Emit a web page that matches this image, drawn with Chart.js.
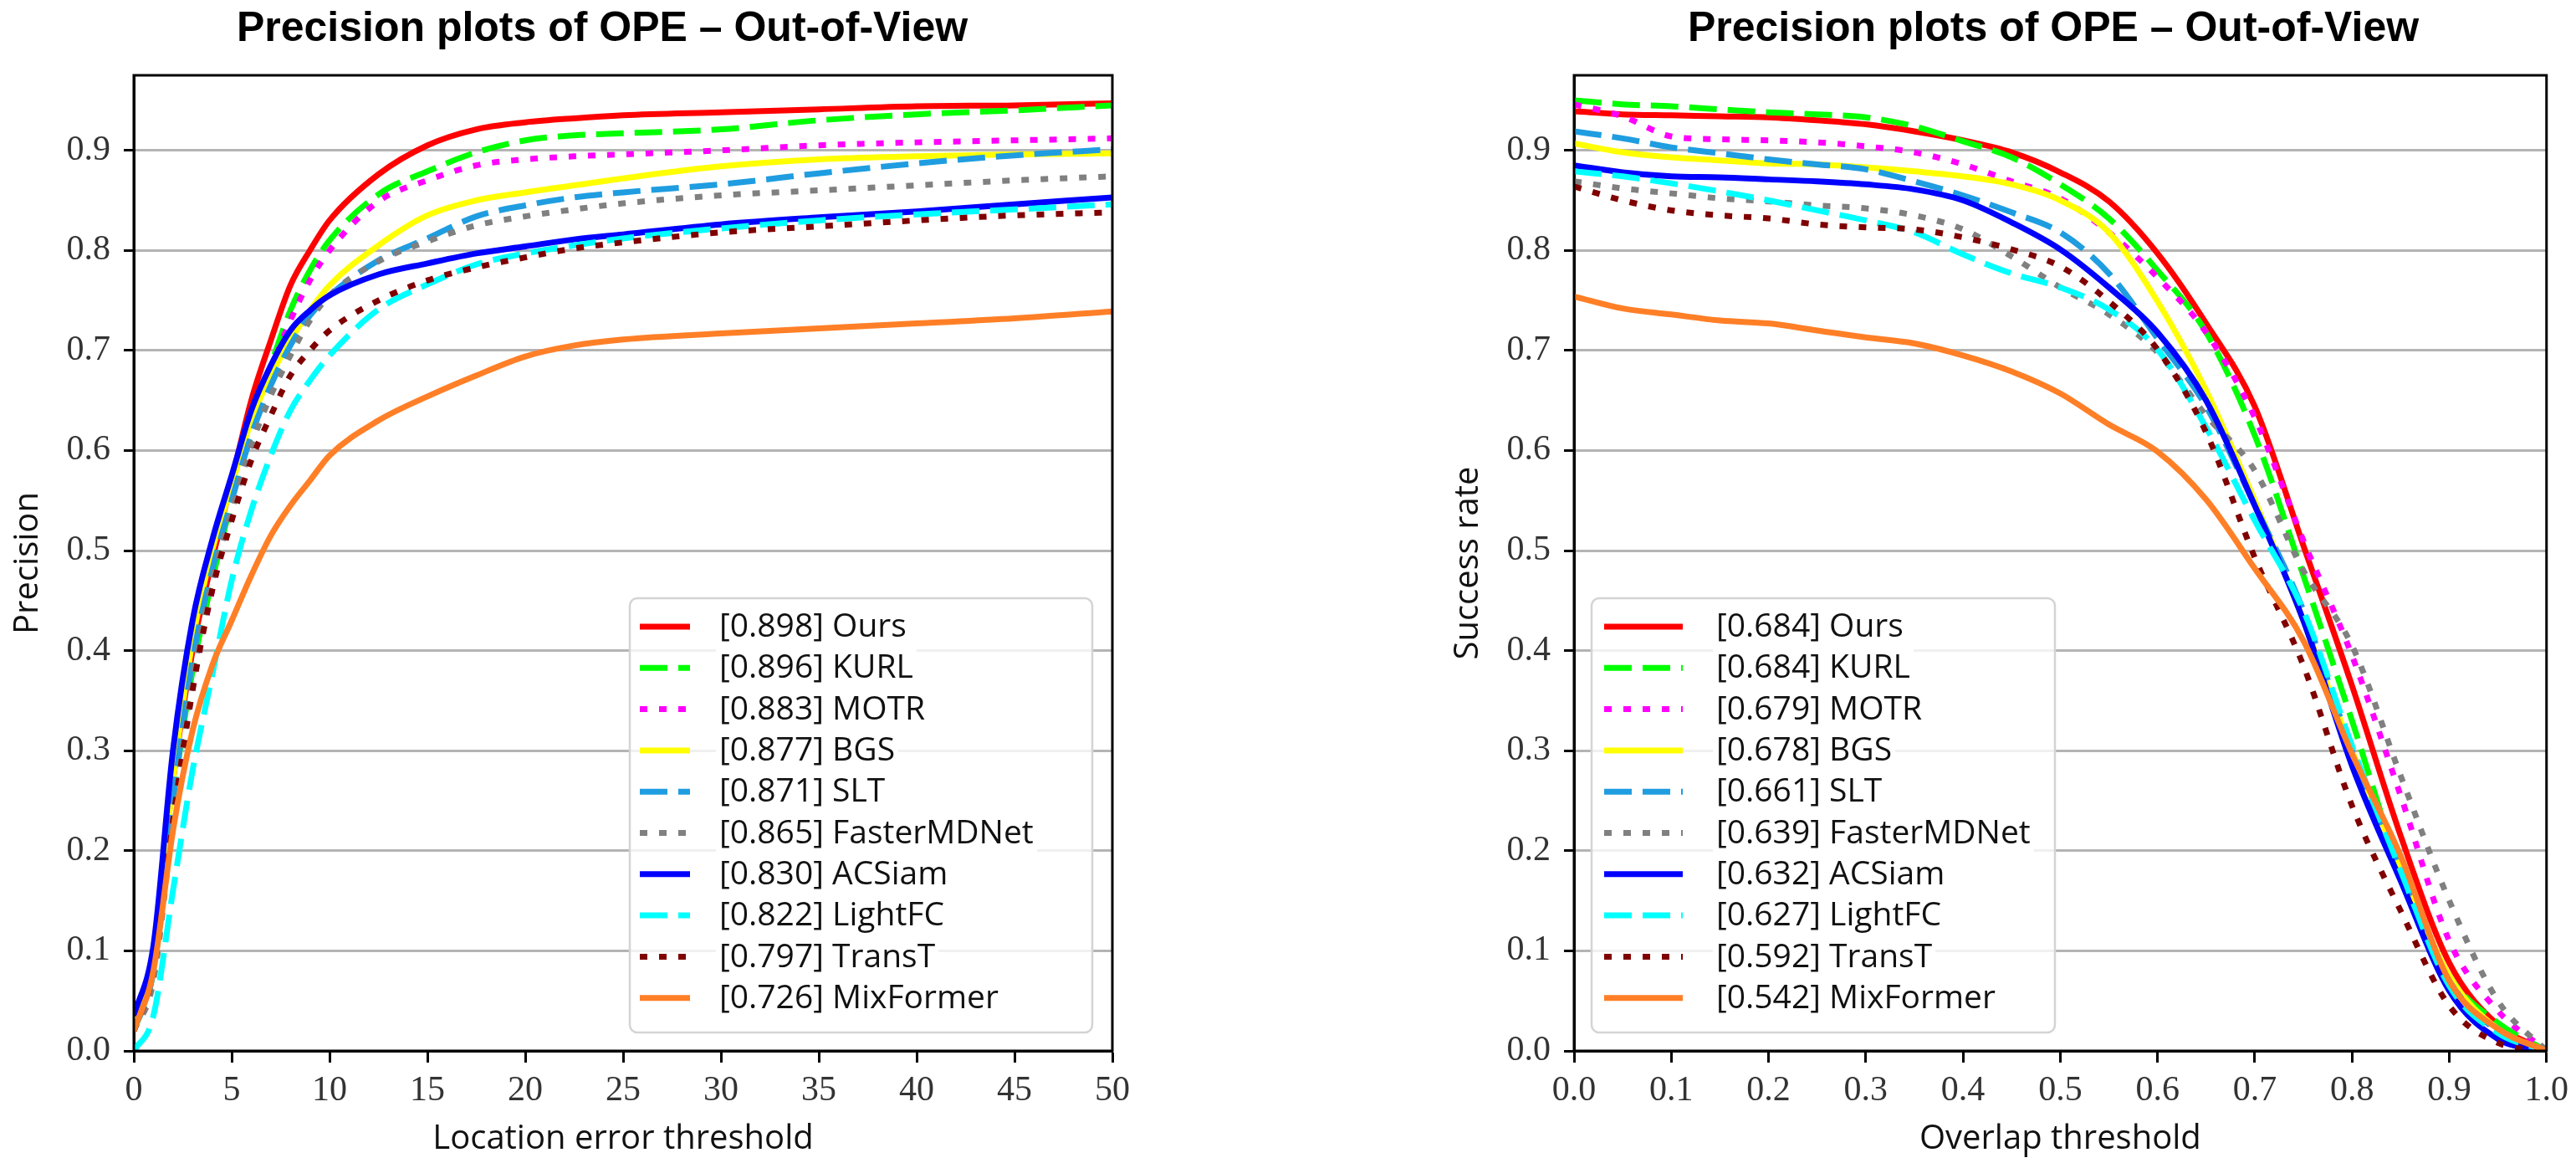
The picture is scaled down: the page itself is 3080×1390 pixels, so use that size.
<!DOCTYPE html>
<html>
<head>
<meta charset="utf-8">
<script src="https://cdn.jsdelivr.net/npm/chart.js@4.4.1/dist/chart.umd.min.js"></script>
<style>
  body{margin:0;background:#fff;width:3080px;height:1390px;overflow:hidden;position:relative}
  canvas{position:absolute;top:0}
  #precCanvas{left:0}
  #succCanvas{left:1722px}
</style>
</head>
<body>
<canvas id="precCanvas" width="1540" height="1390"></canvas>
<canvas id="succCanvas" width="1358" height="1390"></canvas>
<script>
// trackers, in legend order
const methods=['Ours','KURL','MOTR','BGS','SLT','FasterMDNet','ACSiam','LightFC','TransT','MixFormer']
const precScores=['0.898','0.896','0.883','0.877','0.871','0.865','0.830','0.822','0.797','0.726']
const succScores=['0.684','0.684','0.679','0.678','0.661','0.639','0.632','0.627','0.592','0.542']
const colors=['#ff0000','#00ff00','#ff00ff','#ffff00','#1f9de0','#808080','#0000ff','#00ffff','#800000','#ff7f27']
const styles=['solid','dashed','dotted','solid','dashed','dotted','solid','dashed','dotted','solid']

// precision plot: location error threshold
const errThresholds=[0,1,2,3,4,5,6,7,8,9,10,12.5,15,17.5,20,22.5,25,30,35,40,45,50]
const precOurs=[0.03,0.10,0.27,0.40,0.49,0.57,0.65,0.71,0.765,0.80,0.83,0.876,0.905,0.921,0.928,0.932,0.935,0.938,0.941,0.944,0.945,0.947]
const precKURL=[0.02,0.08,0.25,0.38,0.47,0.55,0.625,0.685,0.74,0.78,0.81,0.856,0.879,0.898,0.910,0.915,0.917,0.921,0.930,0.936,0.940,0.945]
const precMOTR=[0.02,0.08,0.24,0.37,0.46,0.545,0.62,0.68,0.73,0.77,0.80,0.849,0.870,0.885,0.891,0.894,0.896,0.900,0.905,0.908,0.910,0.912]
const precBGS=[0.03,0.09,0.27,0.41,0.50,0.565,0.63,0.675,0.71,0.74,0.765,0.805,0.835,0.850,0.858,0.865,0.872,0.884,0.891,0.894,0.896,0.897]
const precSLT=[0.02,0.08,0.25,0.39,0.48,0.55,0.615,0.665,0.705,0.735,0.755,0.790,0.812,0.834,0.845,0.853,0.858,0.866,0.877,0.887,0.895,0.901]
const precFaster=[0.02,0.07,0.23,0.37,0.47,0.54,0.605,0.655,0.695,0.73,0.755,0.789,0.809,0.825,0.834,0.841,0.847,0.855,0.860,0.865,0.870,0.874]
const precACSiam=[0.035,0.105,0.30,0.43,0.51,0.575,0.64,0.685,0.72,0.74,0.755,0.776,0.787,0.797,0.804,0.811,0.816,0.826,0.833,0.839,0.846,0.853]
const precLightFC=[0.0,0.035,0.16,0.28,0.375,0.47,0.54,0.595,0.64,0.67,0.695,0.741,0.766,0.786,0.797,0.805,0.812,0.822,0.830,0.836,0.841,0.846]
const precTransT=[0.02,0.08,0.23,0.36,0.46,0.53,0.59,0.635,0.675,0.70,0.72,0.750,0.770,0.783,0.793,0.802,0.808,0.818,0.824,0.830,0.835,0.838]
const precMix=[0.02,0.08,0.22,0.32,0.385,0.43,0.475,0.515,0.545,0.57,0.595,0.630,0.654,0.675,0.694,0.705,0.711,0.717,0.722,0.727,0.732,0.739]

// success plot: overlap threshold
const overlapThresholds=[0,0.05,0.1,0.15,0.2,0.25,0.3,0.35,0.4,0.45,0.5,0.55,0.6,0.65,0.7,0.75,0.8,0.85,0.9,0.95,1.0]
const succOurs=[0.939,0.936,0.935,0.934,0.933,0.930,0.926,0.919,0.910,0.898,0.878,0.849,0.797,0.727,0.644,0.505,0.365,0.215,0.088,0.026,0.0]
const succKURL=[0.950,0.946,0.944,0.941,0.938,0.936,0.933,0.924,0.909,0.893,0.866,0.832,0.780,0.718,0.615,0.475,0.33,0.18,0.075,0.028,0.0]
const succMOTR=[0.946,0.934,0.914,0.911,0.910,0.908,0.904,0.898,0.886,0.869,0.852,0.818,0.773,0.718,0.633,0.51,0.395,0.255,0.11,0.04,0.0]
const succBGS=[0.907,0.898,0.893,0.890,0.887,0.886,0.883,0.879,0.874,0.866,0.850,0.818,0.749,0.660,0.55,0.43,0.30,0.185,0.075,0.022,0.0]
const succSLT=[0.919,0.912,0.903,0.897,0.891,0.886,0.881,0.869,0.855,0.838,0.818,0.777,0.712,0.644,0.545,0.44,0.30,0.18,0.07,0.02,0.0]
const succFaster=[0.869,0.862,0.857,0.852,0.849,0.845,0.842,0.835,0.821,0.794,0.763,0.736,0.698,0.635,0.58,0.48,0.405,0.275,0.15,0.05,0.0]
const succACSiam=[0.885,0.878,0.874,0.873,0.871,0.869,0.866,0.861,0.850,0.828,0.801,0.763,0.718,0.65,0.545,0.43,0.285,0.17,0.06,0.012,0.0]
const succLightFC=[0.879,0.874,0.867,0.859,0.850,0.840,0.830,0.818,0.796,0.777,0.763,0.741,0.701,0.623,0.53,0.44,0.305,0.18,0.065,0.018,0.0]
const succTransT=[0.864,0.850,0.840,0.835,0.832,0.826,0.823,0.821,0.813,0.801,0.784,0.749,0.701,0.618,0.493,0.385,0.245,0.14,0.045,0.008,0.0]
const succMix=[0.754,0.742,0.736,0.730,0.727,0.720,0.713,0.707,0.695,0.679,0.657,0.626,0.599,0.551,0.482,0.41,0.297,0.195,0.07,0.022,0.0]

const yTicks=[0,0.1,0.2,0.3,0.4,0.5,0.6,0.7,0.8,0.9]

const dashFor=s=>s=='dashed'?[33,13]:(s=='dotted'?[9,14]:[])

const figurePlugin={
    id:'figure',
    afterDatasetsDraw(chart,args,opts){
        const ctx=chart.ctx
        const a=chart.chartArea
        ctx.save()
        ctx.strokeStyle='#000'
        ctx.lineWidth=3
        ctx.strokeRect(a.left,a.top,a.right-a.left,a.bottom-a.top)
        ctx.restore()
    },
    afterDraw(chart,args,opts){
        const ctx=chart.ctx
        ctx.save()
        // title
        ctx.font='bold 50px "Liberation Sans"'
        ctx.fillStyle='#000'
        ctx.textAlign='center'
        ctx.textBaseline='alphabetic'
        ctx.fillText(opts.title,opts.titleX,49)
        // legend box
        const L=opts.legend
        const r=9
        ctx.beginPath()
        ctx.moveTo(L.x+r,L.y)
        ctx.lineTo(L.x+L.w-r,L.y)
        ctx.arcTo(L.x+L.w,L.y,L.x+L.w,L.y+r,r)
        ctx.lineTo(L.x+L.w,L.y+L.h-r)
        ctx.arcTo(L.x+L.w,L.y+L.h,L.x+L.w-r,L.y+L.h,r)
        ctx.lineTo(L.x+r,L.y+L.h)
        ctx.arcTo(L.x,L.y+L.h,L.x,L.y+L.h-r,r)
        ctx.lineTo(L.x,L.y+r)
        ctx.arcTo(L.x,L.y,L.x+r,L.y,r)
        ctx.closePath()
        ctx.fillStyle='rgba(255,255,255,0.8)'
        ctx.fill()
        ctx.strokeStyle='#d4d4d4'
        ctx.lineWidth=2.5
        ctx.stroke()
        ctx.font='39px "Open Sans"'
        ctx.textAlign='left'
        ctx.textBaseline='middle'
        chart.data.datasets.forEach((ds,i)=>{
            const y=L.y+L.first+i*L.gap
            const tw=ctx.measureText(ds.label).width
            ctx.fillStyle='#fff'
            ctx.fillRect(L.textX-4,y-24,tw+8,48)
            ctx.beginPath()
            ctx.setLineDash(ds.borderDash)
            ctx.lineCap='butt'
            ctx.strokeStyle=ds.borderColor
            ctx.lineWidth=ds.borderWidth
            ctx.moveTo(L.x0,y)
            ctx.lineTo(L.x1,y)
            ctx.stroke()
            ctx.setLineDash([])
            ctx.fillStyle='#111'
            ctx.fillText(ds.label,L.textX,y+1)
        })
        ctx.restore()
    }
}

const makeChart=(canvasId,xs,series,scores,cfg)=>{
    const datasets=series.map((vals,i)=>({
        label:'['+scores[i]+'] '+methods[i],
        data:xs.map((x,j)=>({x:x,y:vals[j]})),
        borderColor:colors[i],
        backgroundColor:colors[i],
        borderWidth:7,
        borderDash:dashFor(styles[i]),
        borderCapStyle:'butt',
        borderJoinStyle:'round',
        pointRadius:0,
        cubicInterpolationMode:'monotone',
        fill:false,
        order:series.length-1-i
    }))
    return new Chart(document.getElementById(canvasId),{
        type:'line',
        data:{datasets:datasets},
        plugins:[figurePlugin],
        options:{
            responsive:false,
            animation:false,
            devicePixelRatio:1,
            layout:{padding:{top:90,right:cfg.padRight,bottom:0,left:0}},
            plugins:{
                legend:{display:false},
                tooltip:{enabled:false},
                figure:{title:cfg.title,titleX:cfg.titleX,legend:cfg.legend}
            },
            scales:{
                x:{
                    type:'linear',
                    min:cfg.xMin,max:cfg.xMax,
                    afterBuildTicks:s=>{s.ticks=cfg.xTicks.map(v=>({value:v}))},
                    afterFit:s=>{s.height=134},
                    ticks:{
                        font:{family:'"Liberation Serif"',size:42},
                        color:'#333',
                        padding:9,
                        maxRotation:0,
                        autoSkip:false,
                        callback:cfg.xFormat
                    },
                    grid:{display:true,drawOnChartArea:false,drawTicks:true,tickLength:14,tickColor:'#000',tickWidth:3},
                    border:{display:true,color:'#000',width:3},
                    title:{display:true,text:cfg.xTitle,font:{family:'"Open Sans"',size:40},color:'#111',padding:{top:0,bottom:4}}
                },
                y:{
                    type:'linear',
                    min:0,max:0.975,
                    afterBuildTicks:s=>{s.ticks=yTicks.map(v=>({value:v}))},
                    afterFit:s=>{s.width=160},
                    ticks:{
                        font:{family:'"Liberation Serif"',size:42},
                        color:'#333',
                        padding:16,
                        callback:v=>v.toFixed(1)
                    },
                    grid:{color:'#b4b4b4',lineWidth:3,tickLength:12,tickColor:'#000',tickWidth:3},
                    border:{display:true,color:'#000',width:3},
                    title:{display:true,text:cfg.yTitle,font:{family:'"Open Sans"',size:40},color:'#111',padding:{top:10,bottom:0}}
                }
            }
        }
    })
}

makeChart('precCanvas',errThresholds,
    [precOurs,precKURL,precMOTR,precBGS,precSLT,precFaster,precACSiam,precLightFC,precTransT,precMix],
    precScores,{
        title:'Precision plots of OPE \u2013 Out-of-View',titleX:720,
        padRight:210,
        xMin:0,xMax:50,xTicks:[0,5,10,15,20,25,30,35,40,45,50],
        xFormat:v=>String(v),
        xTitle:'Location error threshold',yTitle:'Precision',
        legend:{x:753,y:715,w:553,h:519,first:34,gap:49.3,x0:765,x1:825,textX:860}
    })

makeChart('succCanvas',overlapThresholds,
    [succOurs,succKURL,succMOTR,succBGS,succSLT,succFaster,succACSiam,succLightFC,succTransT,succMix],
    succScores,{
        title:'Precision plots of OPE \u2013 Out-of-View',titleX:733,
        padRight:27,
        xMin:0,xMax:1,xTicks:[0,0.1,0.2,0.3,0.4,0.5,0.6,0.7,0.8,0.9,1.0],
        xFormat:v=>v.toFixed(1),
        xTitle:'Overlap threshold',yTitle:'Success rate',
        legend:{x:181,y:715,w:554,h:519,first:34,gap:49.3,x0:196,x1:290,textX:330}
    })
</script>
</body>
</html>
